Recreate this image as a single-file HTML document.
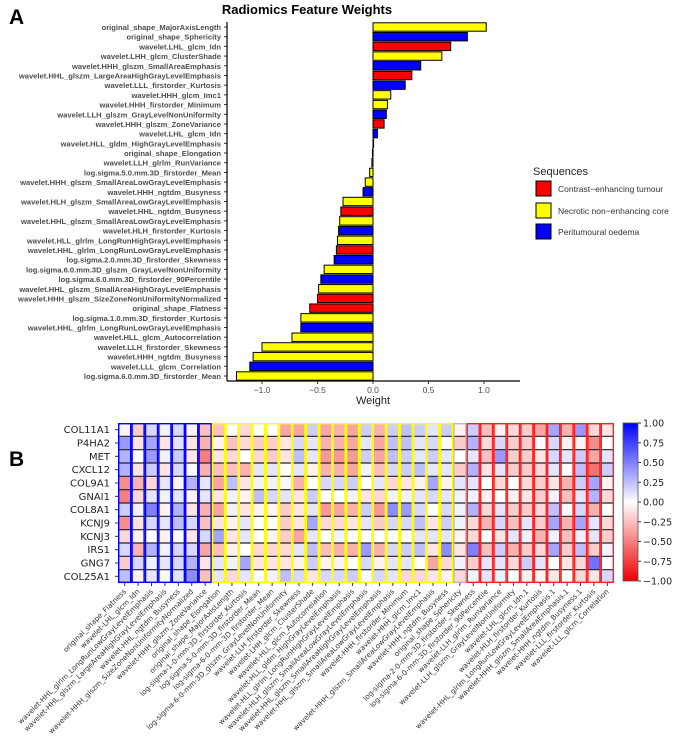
<!DOCTYPE html>
<html><head><meta charset="utf-8"><style>
body{margin:0;background:#fff}
svg{display:block;font-family:"Liberation Sans","DejaVu Sans",sans-serif}
</style></head><body>
<svg id="fig" width="685" height="745" viewBox="0 0 685 745" xmlns="http://www.w3.org/2000/svg">
<text x="9" y="24" font-size="21" font-weight="bold">A</text>
<text x="307" y="14" font-size="13" font-weight="bold" text-anchor="middle">Radiomics Feature Weights</text>
<g id="barsA"></g>
<text x="373" y="404" font-size="11" text-anchor="middle" fill="#222">Weight</text>
<g>
<text x="533" y="175" font-size="11" fill="#222">Sequences</text>
<g><rect x="536" y="181" width="15" height="15" fill="#ff0000" stroke="#000"/><text x="558" y="192" font-size="8.5" fill="#333">Contrast−enhancing tumour</text></g>
<g><rect x="536" y="203" width="15" height="15" fill="#ffff00" stroke="#000"/><text x="558" y="214" font-size="8.5" fill="#333">Necrotic non−enhancing core</text></g>
<g><rect x="536" y="224" width="15" height="15" fill="#0000ff" stroke="#000"/><text x="558" y="235" font-size="8.5" fill="#333">Peritumoural oedema</text></g>
</g>
<text x="9" y="466" font-size="21" font-weight="bold">B</text>
<g id="heat"></g>
<g id="cbar"></g>
</svg>
<script>
const featA = ["original_shape_MajorAxisLength","original_shape_Sphericity","wavelet.LHL_glcm_Idn","wavelet.LHH_glcm_ClusterShade","wavelet.HHH_glszm_SmallAreaEmphasis","wavelet.HHL_glszm_LargeAreaHighGrayLevelEmphasis","wavelet.LLL_firstorder_Kurtosis","wavelet.HHH_glcm_Imc1","wavelet.HHH_firstorder_Minimum","wavelet.LLH_glszm_GrayLevelNonUniformity","wavelet.HHH_glszm_ZoneVariance","wavelet.LHL_glcm_Idn","wavelet.HLL_gldm_HighGrayLevelEmphasis","original_shape_Elongation","wavelet.LLH_glrlm_RunVariance","log.sigma.5.0.mm.3D_firstorder_Mean","wavelet.HHH_glszm_SmallAreaLowGrayLevelEmphasis","wavelet.HHH_ngtdm_Busyness","wavelet.HLH_glszm_SmallAreaLowGrayLevelEmphasis","wavelet.HHL_ngtdm_Busyness","wavelet.HHL_glszm_SmallAreaLowGrayLevelEmphasis","wavelet.HLH_firstorder_Kurtosis","wavelet.HLL_glrlm_LongRunHighGrayLevelEmphasis","wavelet.HHL_glrlm_LongRunLowGrayLevelEmphasis","log.sigma.2.0.mm.3D_firstorder_Skewness","log.sigma.6.0.mm.3D_glszm_GrayLevelNonUniformity","log.sigma.6.0.mm.3D_firstorder_90Percentile","wavelet.HHL_glszm_SmallAreaHighGrayLevelEmphasis","wavelet.HHH_glszm_SizeZoneNonUniformityNormalized","original_shape_Flatness","log.sigma.1.0.mm.3D_firstorder_Kurtosis","wavelet.HHL_glrlm_LongRunLowGrayLevelEmphasis","wavelet.HLL_glcm_Autocorrelation","wavelet.LLH_firstorder_Skewness","wavelet.HHH_ngtdm_Busyness","wavelet.LLL_glcm_Correlation","log.sigma.6.0.mm.3D_firstorder_Mean"];
const weightsA = [1.02,0.85,0.70,0.62,0.43,0.35,0.29,0.16,0.13,0.12,0.10,0.04,0.005,-0.005,-0.01,-0.03,-0.07,-0.09,-0.27,-0.29,-0.30,-0.31,-0.32,-0.33,-0.35,-0.44,-0.47,-0.49,-0.50,-0.57,-0.65,-0.65,-0.73,-1.00,-1.08,-1.11,-1.23];
const seqA = ["Y","B","R","Y","B","R","B","Y","Y","B","R","B","Y","Y","Y","Y","Y","B","Y","R","Y","B","Y","R","B","Y","B","Y","R","R","Y","B","Y","Y","Y","B","Y"];
const ticksA = [-1.0,-0.5,0.0,0.5,1.0];
const tickLabelsA = ["−1.0","−0.5","0.0","0.5","1.0"];

const genes = ["COL11A1","P4HA2","MET","CXCL12","COL9A1","GNAI1","COL8A1","KCNJ9","KCNJ3","IRS1","GNG7","COL25A1"];
const featB = ["original_shape_Flatness","wavelet-LHL_glcm_Idn","wavelet-HHL_glrlm_LongRunLowGrayLevelEmphasis","wavelet-HHL_glszm_LargeAreaHighGrayLevelEmphasis","wavelet-HHL_ngtdm_Busyness","wavelet-HHH_glszm_SizeZoneNonUniformityNormalized","wavelet-HHH_glszm_ZoneVariance","original_shape_Elongation","original_shape_MajorAxisLength","log-sigma-1-0-mm-3D_firstorder_Kurtosis","log-sigma-5-0-mm-3D_firstorder_Mean","log-sigma-6-0-mm-3D_firstorder_Mean","log-sigma-6-0-mm-3D_glszm_GrayLevelNonUniformity","wavelet-LLH_firstorder_Skewness","wavelet-LHH_glcm_ClusterShade","wavelet-HLL_glcm_Autocorrelation","wavelet-HLL_gldm_HighGrayLevelEmphasis","wavelet-HLL_glrlm_LongRunHighGrayLevelEmphasis","wavelet-HLH_glszm_SmallAreaLowGrayLevelEmphasis","wavelet-HHL_glszm_SmallAreaHighGrayLevelEmphasis","wavelet-HHL_glszm_SmallAreaLowGrayLevelEmphasis","wavelet-HHH_firstorder_Minimum","wavelet-HHH_glcm_Imc1","wavelet-HHH_glszm_SmallAreaLowGrayLevelEmphasis","wavelet-HHH_ngtdm_Busyness","original_shape_Sphericity","log-sigma-2-0-mm-3D_firstorder_Skewness","log-sigma-6-0-mm-3D_firstorder_90Percentile","wavelet-LLH_glrlm_RunVariance","wavelet-LLH_glszm_GrayLevelNonUniformity","wavelet-LHL_glcm_Idn.1","wavelet-HLH_firstorder_Kurtosis","wavelet-HHL_glrlm_LongRunLowGrayLevelEmphasis.1","wavelet-HHH_glszm_SmallAreaEmphasis.1","wavelet-HHH_ngtdm_Busyness.1","wavelet-LLL_firstorder_Kurtosis","wavelet-LLL_glcm_Correlation"];
const groupB = ["B","B","B","B","B","B","B","Y","Y","Y","Y","Y","Y","Y","Y","Y","Y","Y","Y","Y","Y","Y","Y","Y","Y","G","R","R","R","R","R","R","R","R","R","R","R"];
const corrB = [
[-0.05,-0.2,0.15,0.05,0.15,-0.05,-0.25,-0.25,0,-0.15,0,0,-0.35,-0.35,0.2,-0.35,-0.3,-0.35,0.2,-0.3,0.2,0.25,0.2,0.1,0.2,-0.05,0.2,-0.25,-0.05,-0.15,-0.2,-0.35,0.35,-0.3,0.4,-0.15,-0.1],
[0.4,-0.1,0.35,-0.1,0.1,-0.1,-0.3,-0.05,-0.25,-0.15,-0.2,-0.2,-0.1,0.15,0.1,-0.3,-0.3,-0.35,0.1,-0.35,0.25,0.25,0.1,0.15,0.02,-0.2,0.3,-0.15,0.15,-0.2,-0.2,0.02,0.15,-0.05,-0.05,-0.45,0],
[0.3,0,0.4,0.05,0.2,-0.1,-0.5,-0.1,-0.15,0,-0.15,-0.2,-0.1,0.25,0.1,-0.4,-0.4,-0.4,0.2,-0.35,0.25,0.2,0.1,0.2,0.1,0,0.1,-0.25,0.4,-0.2,-0.2,-0.1,0.15,0.1,0.2,-0.35,0.1],
[0.3,-0.1,0.2,-0.1,0.15,0.02,-0.3,-0.25,-0.25,-0.3,0.1,0.1,0,0.1,-0.05,-0.3,-0.3,-0.35,0.05,-0.25,0.15,0.2,0.25,0.1,0.1,-0.2,0.3,-0.1,0.1,-0.2,-0.2,-0.15,0.1,0,0.25,-0.55,0.2],
[-0.45,-0.3,-0.15,0.1,-0.05,0.3,0.1,-0.35,0.25,-0.1,0.05,0.05,0.03,-0.3,0,0.15,0.15,0.2,0,0.1,-0.15,-0.1,-0.05,0.35,-0.05,0.1,0.1,0,-0.15,0,-0.15,-0.2,-0.1,-0.3,0.2,0.35,-0.05],
[-0.5,-0.15,0.1,0.05,0.1,-0.05,0.1,-0.1,0.05,-0.05,0.25,0.15,0.1,-0.1,0.2,0,0,0.05,-0.1,-0.15,0.05,0.05,0.1,0.15,0.1,0.05,0.05,-0.05,0,-0.05,-0.1,-0.2,0.05,-0.25,0.1,0.3,-0.15],
[0.2,0.05,0.5,-0.05,0.3,-0.1,-0.3,-0.35,0.05,-0.1,-0.05,-0.05,-0.2,-0.1,0.1,-0.4,-0.35,-0.3,0.2,-0.4,0.45,0.4,0.15,0,0.15,0.05,0.3,-0.15,0.1,-0.2,-0.2,-0.15,0.25,0.02,0.15,-0.3,0],
[-0.45,-0.1,0.15,0.1,0.25,0.15,-0.25,-0.1,-0.05,0.1,0,0,-0.2,-0.1,0.35,-0.15,-0.15,-0.1,0.1,-0.2,0.15,0.15,0.25,-0.1,0.2,0.05,-0.15,-0.3,0.15,-0.25,0.1,-0.2,0.35,-0.3,0.35,0.1,-0.15],
[-0.15,-0.05,0,-0.05,0,-0.1,0.15,0.35,-0.1,0.1,0,-0.05,-0.2,-0.35,0.1,0,0.05,0,0,0,0,0,0.1,0.1,0.1,-0.05,-0.15,0,-0.1,0.1,0.05,-0.3,0.05,-0.25,0.05,0.1,-0.2],
[0.15,-0.3,0.3,0.05,0.15,0.15,-0.35,-0.25,-0.05,0,-0.15,-0.15,-0.15,0.1,0.25,-0.25,-0.3,-0.3,0.4,-0.3,0.15,0.2,0.25,-0.1,0.45,-0.1,0.5,-0.25,0.2,-0.3,-0.2,-0.15,0.35,-0.2,0.25,-0.2,0.05],
[-0.2,0.15,0.05,0.1,0.15,0.3,-0.1,0.1,0.05,0.35,-0.1,-0.1,-0.1,-0.05,0.2,-0.05,-0.05,0,0.15,-0.05,0.1,0.1,0,-0.35,-0.15,0.05,-0.2,0.1,0.1,-0.15,0.2,0.1,0,-0.1,-0.15,0.55,0],
[0.25,-0.05,0.1,0.02,0.1,0.45,-0.25,0.1,-0.15,0.1,0,0.05,0.25,0.15,-0.1,0.15,0.15,0.2,0.02,0.15,0.1,-0.15,-0.15,-0.1,-0.05,-0.15,0.05,0.1,0.05,0,-0.05,-0.05,-0.1,0,-0.15,-0.1,0.15]
];
const cbarTicks = [1.0,0.75,0.5,0.25,0.0,-0.25,-0.5,-0.75,-1.0];
const cbarLabels = ["1.00","0.75","0.50","0.25","0.00","−0.25","−0.50","−0.75","−1.00"];

const NS="http://www.w3.org/2000/svg";
function mk(tag,attrs,parent){const e=document.createElementNS(NS,tag);for(const k in attrs)e.setAttribute(k,attrs[k]);parent.appendChild(e);return e;}
const seqColor={R:"#ff0000",Y:"#ffff00",B:"#0000ff"};

// Panel A
const gA=document.getElementById('barsA');
const x0=227,x1=520,yTop=22,yBot=381;
const xA=v=>373+v*111;
const step=(376-27)/(featA.length-1);
const yA=i=>27+i*step;
featA.forEach((f,i)=>{
  const v=weightsA[i];
  const r=mk('rect',{x:Math.min(xA(0),xA(v)),y:yA(i)-4.2,width:Math.max(Math.abs(xA(v)-xA(0)),0.6),height:8.4,fill:seqColor[seqA[i]],stroke:'#000','stroke-width':1},gA);
  
  
  const t=mk('text',{x:221,y:yA(i)+3,'font-size':7.6,'font-weight':'bold','text-anchor':'end',fill:'#4d4d4d'},gA);
  t.textContent=f;
  
  
  mk('line',{x1:224,x2:227,y1:yA(i),y2:yA(i),stroke:'#333','stroke-width':1},gA);
});
mk('line',{x1:x0,x2:x0,y1:yTop,y2:yBot,stroke:'#000','stroke-width':1.2},gA);
mk('line',{x1:x0,x2:x1,y1:yBot,y2:yBot,stroke:'#000','stroke-width':1.2},gA);
ticksA.forEach((t,i)=>{
  mk('line',{x1:xA(t),x2:xA(t),y1:yBot,y2:yBot+3,stroke:'#333'},gA);
  const tl=mk('text',{x:xA(t),y:yBot+12,'font-size':8.5,'text-anchor':'middle',fill:'#4d4d4d'},gA);
  tl.textContent=tickLabelsA[i];
  
  
});

// Panel B
const gH=document.getElementById('heat');
const hx0=118,hy0=423,hx1=614,hy1=583;
const cw=(hx1-hx0)/featB.length, rh=(hy1-hy0)/genes.length;
function col(v){v=Math.max(-1,Math.min(1,v));let r,g,b;
  if(v>=0){r=255*(1-v);g=255*(1-v);b=255;}else{r=255-20*(-v);g=255*(1+v);b=255*(1+v);}
  return `rgb(${r|0},${g|0},${b|0})`;}
genes.forEach((gname,r)=>{
  featB.forEach((f,c)=>{
    const cell=mk('rect',{x:hx0+c*cw,y:hy0+r*rh,width:cw+0.3,height:rh+0.3,fill:col(corrB[r][c])},gH);
    
    
  });
  const t=mk('text',{x:hx0-8,y:hy0+r*rh+rh/2+3.5,'font-size':10,'text-anchor':'end',fill:'#222','font-family':'DejaVu Sans, sans-serif'},gH);
  t.textContent=gname;
  
  
  mk('line',{x1:hx0-3,x2:hx0,y1:hy0+r*rh+rh/2,y2:hy0+r*rh+rh/2,stroke:'#333'},gH);
});
for(let r=1;r<genes.length;r++) mk('line',{x1:hx0,x2:hx1,y1:hy0+r*rh,y2:hy0+r*rh,stroke:'#222','stroke-width':1.2},gH);
const grpStroke={B:'#0000ff',Y:'#ffff00',G:'#bbbbbb',R:'#ff2020'};
featB.forEach((f,c)=>{
  mk('rect',{x:hx0+c*cw+0.7,y:hy0+0.7,width:cw-1.4,height:hy1-hy0-1.4,fill:'none',stroke:grpStroke[groupB[c]],'stroke-width':1.4},gH);
  const cx=hx0+c*cw+cw/2;
  mk('line',{x1:cx,x2:cx,y1:hy1,y2:hy1+3,stroke:'#333'},gH);
  const t=mk('text',{x:cx+2,y:hy1+9,'font-size':7.2,'text-anchor':'end',fill:'#333','font-family':'DejaVu Sans, sans-serif',transform:`rotate(-45 ${cx+2} ${hy1+9})`},gH);
  t.textContent=f;
  
  
});

// colorbar
const gC=document.getElementById('cbar');
const defs=mk('defs',{},gC);
const lg=mk('linearGradient',{id:'cg',x1:0,y1:0,x2:0,y2:1},defs);
[[0,'#0000ff'],[0.5,'#ffffff'],[1,'#ec0000']].forEach(s=>mk('stop',{offset:s[0],'stop-color':s[1]},lg));
const cy0=423,cy1=581,cxL=623,cwB=15;
mk('rect',{x:cxL,y:cy0,width:cwB,height:cy1-cy0,fill:'url(#cg)',stroke:'#555','stroke-width':0.8},gC);
const yC=v=>cy0+(1-v)/2*(cy1-cy0);
cbarTicks.forEach((t,i)=>{
  mk('line',{x1:cxL+cwB,x2:cxL+cwB+3,y1:yC(t),y2:yC(t),stroke:'#333'},gC);
  const tl=mk('text',{x:cxL+cwB+5,y:yC(t)+3.5,'font-size':9.5,fill:'#222','font-family':'DejaVu Sans, sans-serif'},gC);
  tl.textContent=cbarLabels[i];
  
  
});
</script>
</body></html>
